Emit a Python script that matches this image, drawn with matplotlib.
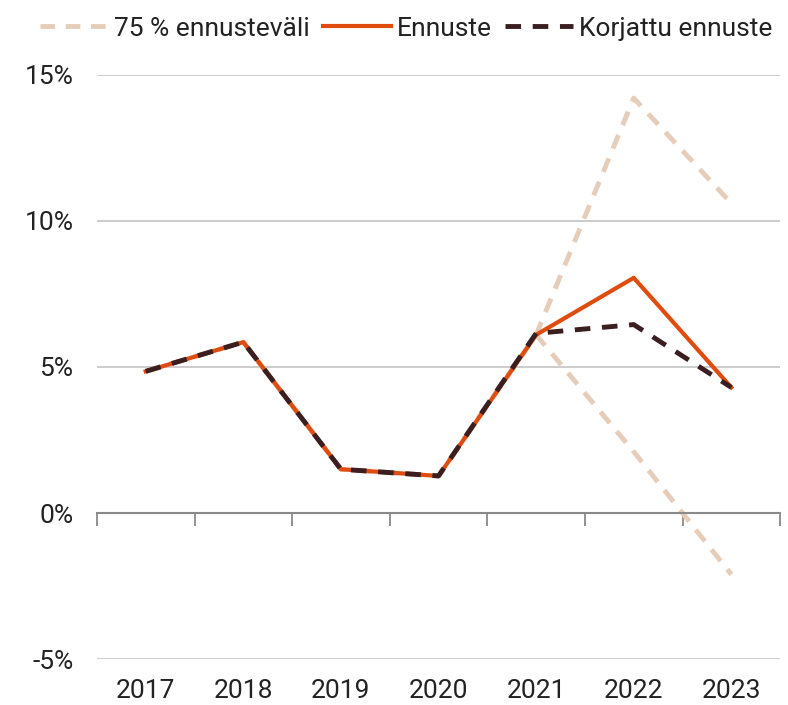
import numpy as np
import matplotlib.pyplot as plt

years = ["2017", "2018", "2019", "2020", "2021", "2022", "2023"]
ennuste = [4.85, 5.85, 1.5, 1.27, 6.1, 8.05, 4.3]
korjattu = [4.85, 5.85, 1.5, 1.27, 6.15, 6.45, 4.3]
ylaraja = [4.85, 5.85, 1.5, 1.27, 6.1, 14.2, 10.6]
alaraja = [4.85, 5.85, 1.5, 1.27, 6.1, 2.1, -2.1]

plt.rcParams['font.family'] = ['Roboto', 'DejaVu Sans']

beige = "#e6cdb9"
orange = "#de4c0f"
dark = "#3a1e20"

fig = plt.figure(figsize=(7.88, 7.05), dpi=100)
ax = fig.add_axes([0.123, 0.065, 0.867, 0.829])
x = np.arange(len(years))

ax.plot(x, ylaraja, color=beige, lw=3.5, dashes=(3, 2.2), label="75 % ennusteväli")
ax.plot(x, alaraja, color=beige, lw=3.5, dashes=(3, 2.2))
ax.plot(x, ennuste, color=orange, lw=3, label="Ennuste")
ax.plot(x, korjattu, color=dark, lw=3.5, dashes=(3.2, 2.4), label="Korjattu ennuste")

ax.set_xlim(-0.5, 6.5)
ax.set_ylim(-5, 15)
ax.set_yticks([-5, 0, 5, 10, 15])
ax.set_yticklabels(["-5%", "0%", "5%", "10%", "15%"], fontsize=19, color="#222222")
ax.tick_params(axis='y', length=0, pad=17)
ax.grid(axis='y', color="#c8c8c8", lw=1.3)
ax.set_axisbelow(True)

for s in ['top', 'right', 'left']:
    ax.spines[s].set_visible(False)
ax.spines['bottom'].set_position(('data', 0))
ax.spines['bottom'].set_color("#8a8a8a")
ax.spines['bottom'].set_linewidth(1.5)
ax.set_xticks(np.arange(-0.5, 7, 1))
ax.tick_params(axis='x', length=9, width=1.3, color="#8a8a8a", labelbottom=False)

sec = ax.secondary_xaxis('bottom')
sec.set_xticks(x)
sec.set_xticklabels(years, fontsize=19, color="#222222")
sec.tick_params(length=0, pad=14)
sec.spines['bottom'].set_visible(False)

fig.legend(loc='upper right', bbox_to_anchor=(1.01, 1.01), ncol=3, frameon=False,
           fontsize=19, handlelength=2.6, handletextpad=0.2, columnspacing=0.5,
           labelcolor="#222222")

fig.savefig("out.png", dpi=100)
